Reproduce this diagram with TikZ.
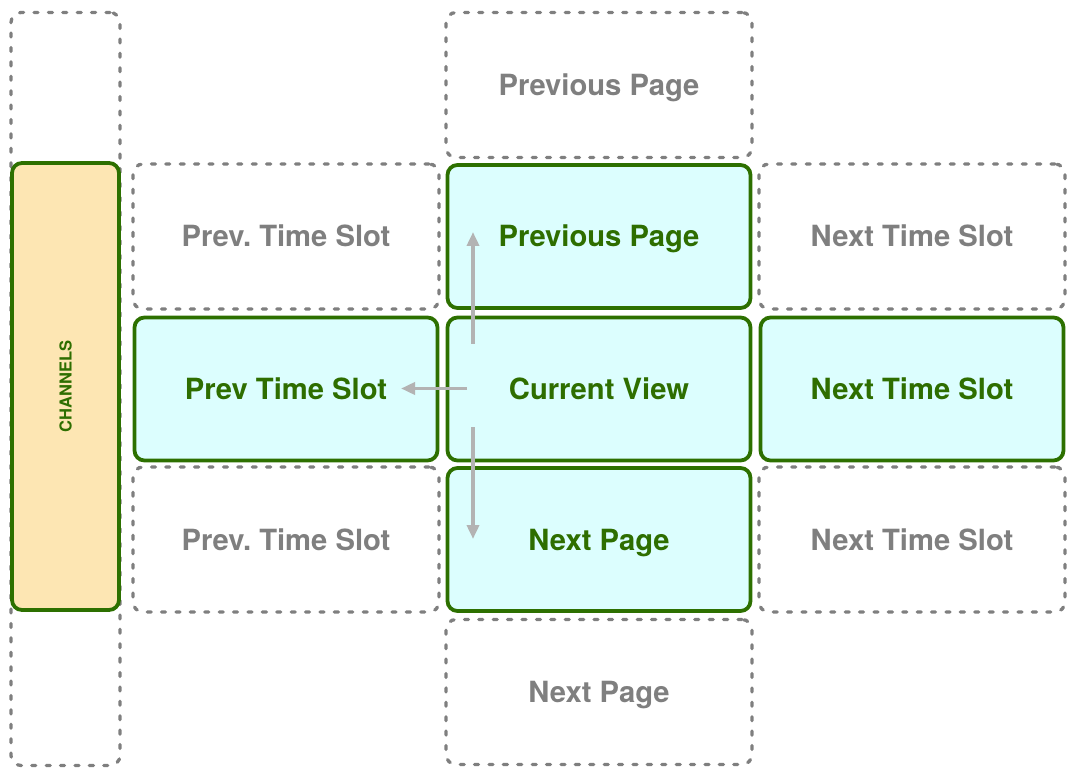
\documentclass[tikz,border=0pt]{standalone}
\usepackage{fontspec}
\setmainfont{TeX Gyre Heros}
\usetikzlibrary{arrows.meta}
\definecolor{gline}{HTML}{2D7000}
\definecolor{gtext}{HTML}{2E6E00}
\definecolor{cfill}{HTML}{DCFEFE}
\definecolor{yfill}{HTML}{FDE6B3}
\definecolor{dgray}{HTML}{7F7F7F}
\definecolor{agray}{HTML}{B3B3B3}
\frenchspacing
\tikzset{
  lbl/.style={font=\fontsize{29.2}{34}\selectfont\bfseries, text height=21pt, text depth=0pt, yshift=-1.5pt},
  ghost/.style={draw=dgray, line width=3.3pt, dash pattern=on 4pt off 10.4pt, line cap=round,
    rounded corners=10pt, minimum width=#1, inner sep=0pt, text=dgray, lbl},
  ghost/.default=306pt,
  live/.style={draw=gline, line width=3.8pt, fill=cfill, rounded corners=10pt,
    minimum width=303pt, minimum height=143pt, inner sep=0pt, text=gtext, lbl},
  nav/.style={draw=agray, line width=3.6pt, -{Triangle[length=14pt,width=12pt]}}
}
\begin{document}
\begin{tikzpicture}[x=1pt,y=-1pt]
\useasboundingbox (0,0) rectangle (1076,775);
% channel column
\node[ghost=109pt, minimum height=753pt, text height=0pt, yshift=0pt] (chcol) at (65.5,387.5) {};
\node[draw=gline, line width=3.8pt, fill=yfill, rounded corners=10pt, minimum width=107pt,
  minimum height=447pt, inner sep=0pt] (ch) at (65.5,386.5) {};
\node[rotate=90, text=gtext, font=\fontsize{16.5}{19}\selectfont\bfseries] (chl) at (ch.center) {CHANNELS};
% ghost boxes
\node[ghost, minimum height=145pt] (pp2) at (599,83.5) {Previous Page};
\node[ghost, minimum height=145pt] (np2) at (599,690.5) {Next Page};
\node[ghost, minimum height=145pt] (pts1) at (286,235) {Prev. Time Slot};
\node[ghost, minimum height=145pt] (pts2) at (286,538) {Prev. Time Slot};
\node[ghost, minimum height=145pt] (nts1) at (912,235) {Next Time Slot};
\node[ghost, minimum height=145pt] (nts2) at (912,538) {Next Time Slot};
% live boxes
\node[live] (pp) at (599,235) {Previous Page};
\node[live] (cv) at (599,387.5) {Current View};
\node[live] (np) at (599,538) {Next Page};
\node[live] (pts) at (286,387.5) {Prev Time Slot};
\node[live] (nts) at (912,387.5) {Next Time Slot};
% arrows
\coordinate (upS) at (473,344);
\coordinate (upE) at (473,232);
\coordinate (lfS) at (467,388.5);
\coordinate (lfE) at (401,388.5);
\coordinate (dnS) at (473,427);
\coordinate (dnE) at (473,539);
\draw[nav] (upS) -- (upE);
\draw[nav] (lfS) -- (lfE);
\draw[nav] (dnS) -- (dnE);
\end{tikzpicture}
\end{document}
